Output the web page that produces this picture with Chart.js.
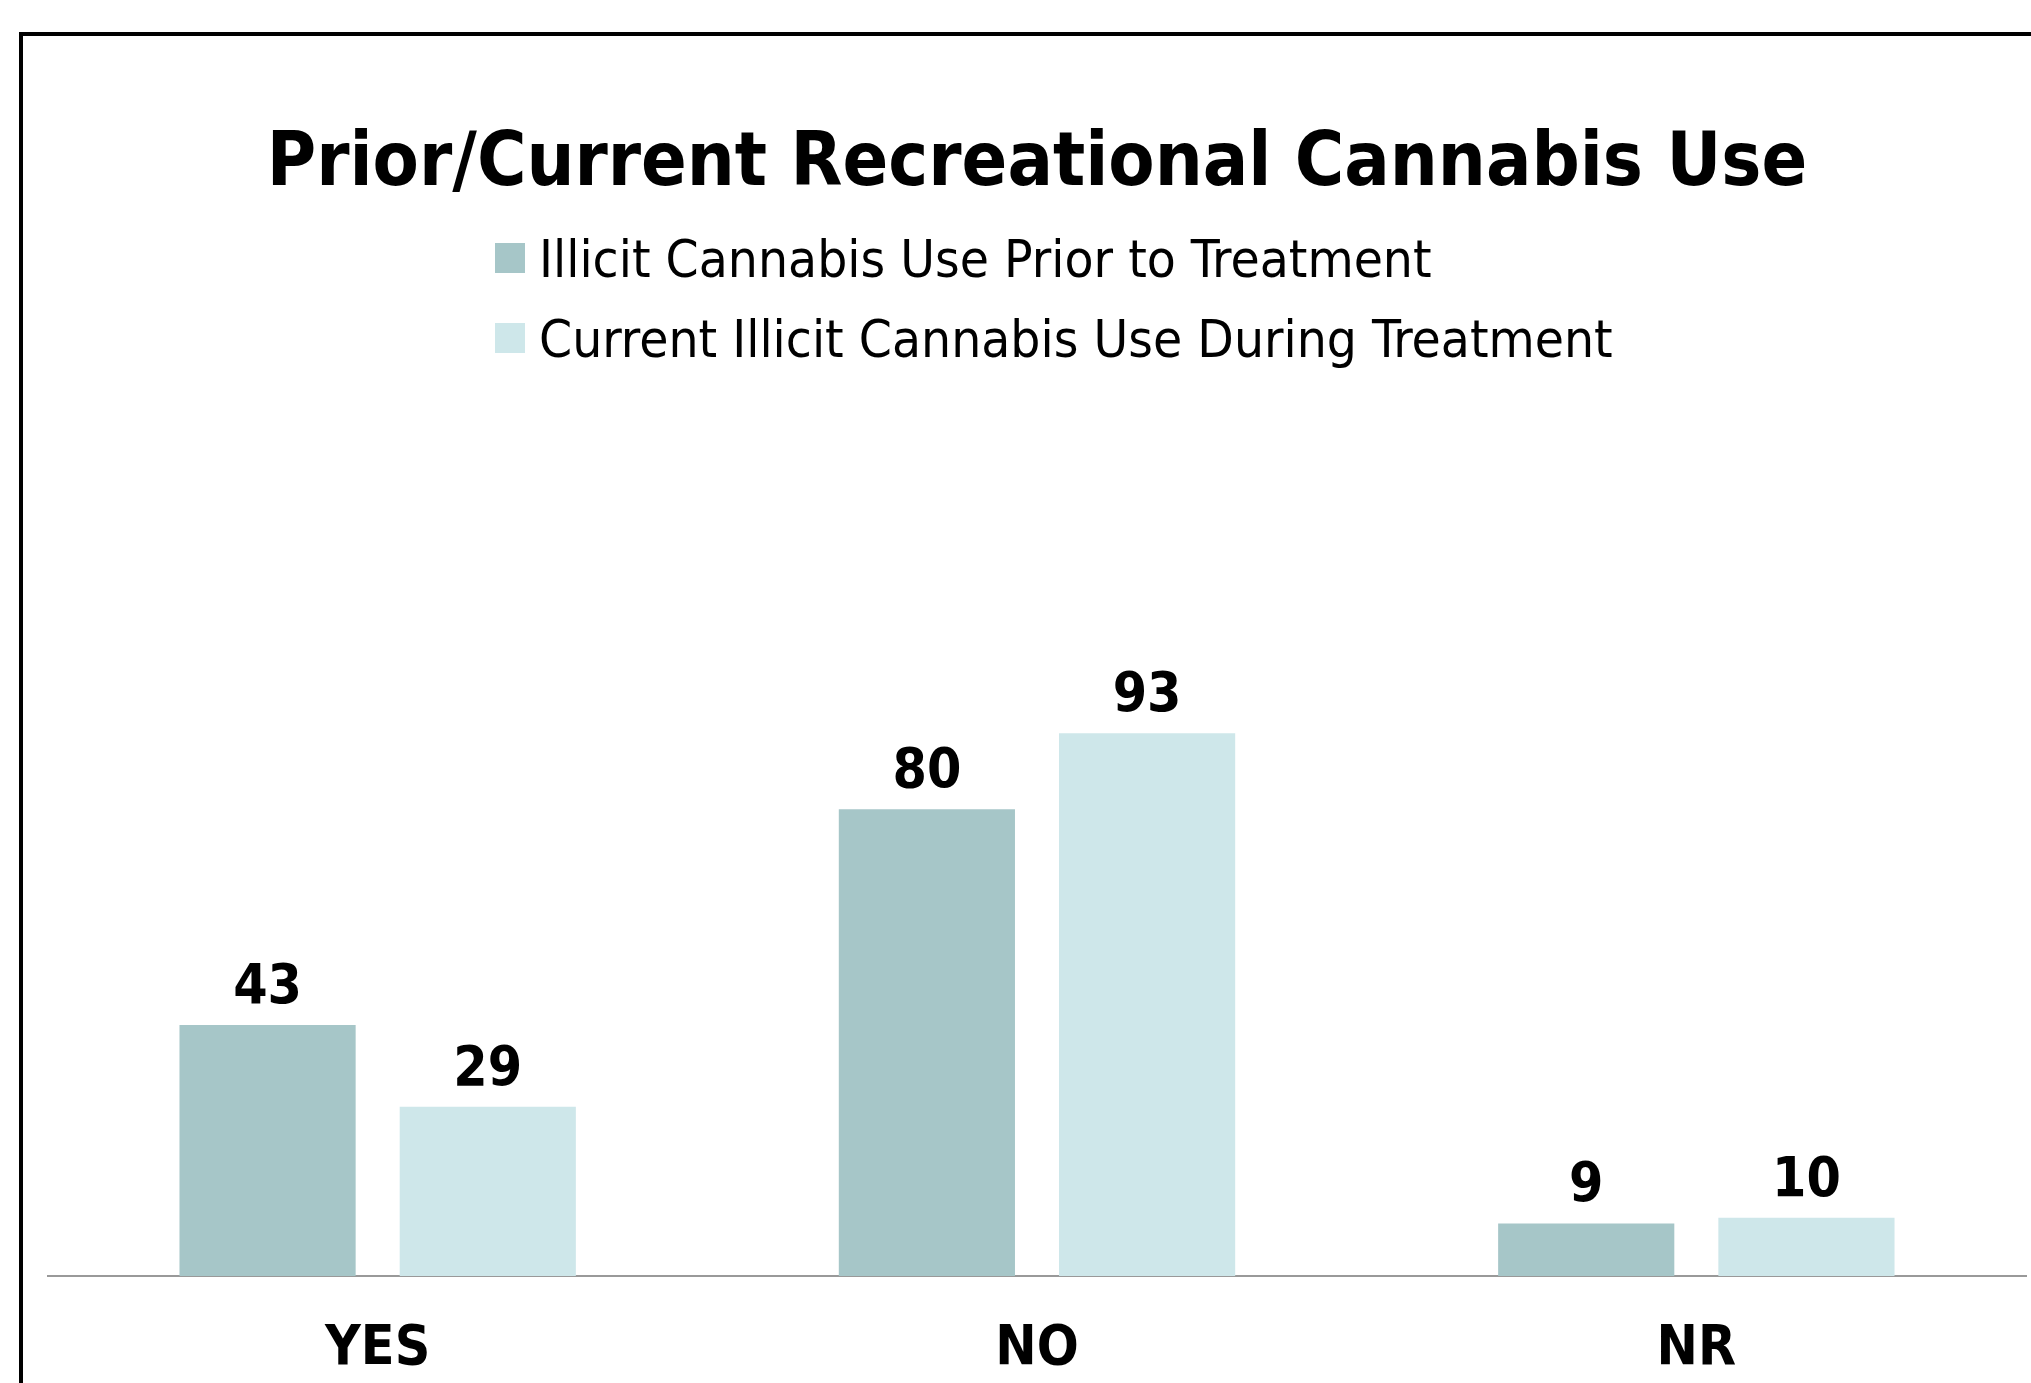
<!DOCTYPE html>
<html>
<head>
<meta charset="utf-8">
<script src="https://cdn.jsdelivr.net/npm/chart.js@4/dist/chart.umd.min.js"></script>
<style>
  html, body { margin: 0; padding: 0; background: #fff; }
  #wrap { width: 2031px; height: 1383px; }
</style>
</head>
<body>
<div id="wrap"><canvas id="chart" width="2031" height="1383"></canvas></div>
<script>
// Data
const categories = ['YES', 'NO', 'NR'];
const seriesLabels = ['Illicit Cannabis Use Prior to Treatment', 'Current Illicit Cannabis Use During Treatment'];
const priorUse = [43, 80, 9];
const currentUse = [29, 93, 10];
const seriesColors = ['#A6C6C8', '#CEE7EA'];
const chartTitle = 'Prior/Current Recreational Cannabis Use';

const FONT = "'DejaVu Sans Condensed', 'DejaVu Sans', sans-serif";

// Black frame (top + left edges only, the rest is cut off)
const framePlugin = {
    id: 'frame',
    beforeDraw(chart) {
        const ctx = chart.ctx;
        ctx.save();
        ctx.fillStyle = '#000';
        ctx.fillRect(19, 32, 4, chart.height);
        ctx.fillRect(19, 32, chart.width, 4);
        ctx.restore();
    }
};

// Value labels above the bars
const valueLabels = {
    id: 'valueLabels',
    afterDatasetsDraw(chart) {
        const ctx = chart.ctx;
        ctx.save();
        ctx.font = 'bold 55px ' + FONT;
        ctx.fillStyle = '#000';
        ctx.textAlign = 'center';
        ctx.textBaseline = 'alphabetic';
        chart.data.datasets.forEach((ds, i) => {
            chart.getDatasetMeta(i).data.forEach((bar, j) => {
                ctx.fillText(ds.data[j], bar.x, bar.y - 22);
            });
        });
        ctx.restore();
    }
};

// Legend: two left-aligned rows under the title
const stackedLegend = {
    id: 'stackedLegend',
    afterDraw(chart, args, opts) {
        const ctx = chart.ctx;
        ctx.save();
        ctx.font = '52px ' + FONT;
        ctx.textBaseline = 'middle';
        chart.data.datasets.forEach((ds, i) => {
            const cy = opts.top + i * opts.rowGap;
            ctx.fillStyle = ds.backgroundColor;
            ctx.fillRect(opts.left, cy - opts.box / 2, opts.box, opts.box);
            ctx.fillStyle = '#000';
            ctx.save();
            ctx.translate(opts.left + opts.box + 14, cy + 5);
            ctx.scale(opts.squeeze, 1);
            ctx.fillText(ds.label, 0, 0);
            ctx.restore();
        });
        ctx.restore();
    }
};

new Chart(document.getElementById('chart'), {
    type: 'bar',
    data: {
        labels: categories,
        datasets: [
            { label: seriesLabels[0], data: priorUse, backgroundColor: seriesColors[0] },
            { label: seriesLabels[1], data: currentUse, backgroundColor: seriesColors[1] }
        ]
    },
    options: {
        responsive: false,
        animation: false,
        devicePixelRatio: 1,
        layout: { padding: { left: 48, right: 5, top: 0, bottom: 0 } },
        datasets: {
            bar: { categoryPercentage: 0.668, barPercentage: 0.8, borderWidth: 0 }
        },
        plugins: {
            legend: { display: false },
            tooltip: { enabled: false },
            title: {
                display: true,
                text: chartTitle,
                color: '#000',
                font: { family: FONT, size: 75, weight: 'bold' },
                padding: { top: 121, bottom: 248 }
            },
            stackedLegend: { left: 495, top: 258, rowGap: 80, box: 30, squeeze: 1.015 }
        },
        scales: {
            x: {
                grid: { display: false },
                border: { display: true, color: '#999', width: 2 },
                ticks: {
                    color: '#000',
                    font: { family: FONT, size: 55, weight: 'bold' },
                    padding: 33
                },
                afterFit(scale) { scale.height = 107; }
            },
            y: { display: false, min: 0, max: 140 }
        }
    },
    plugins: [framePlugin, valueLabels, stackedLegend]
});
</script>
</body>
</html>
